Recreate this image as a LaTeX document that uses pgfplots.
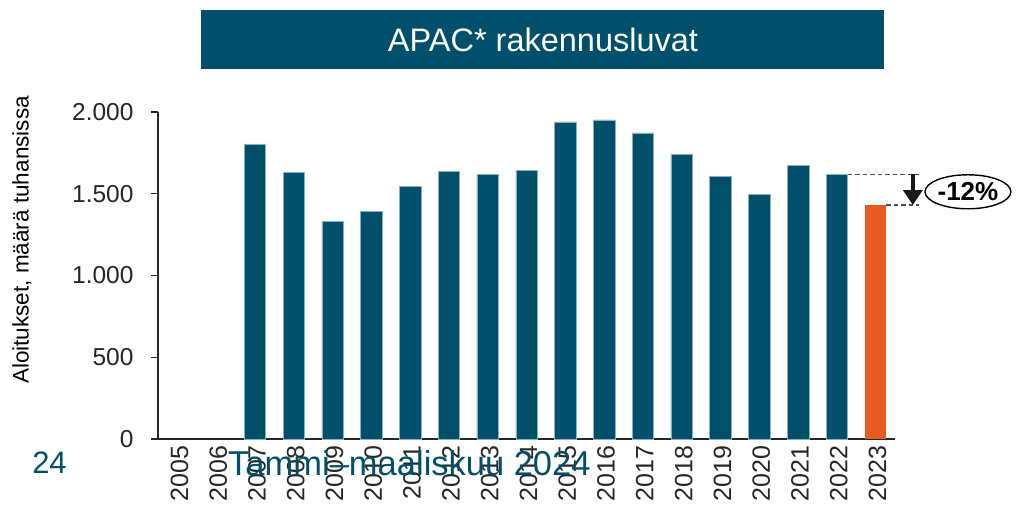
\documentclass[border=0pt]{standalone}
\usepackage{pgfplots}
\pgfplotsset{compat=1.18}
\usepackage{fontspec}
\setmainfont{Liberation Sans}
\usetikzlibrary{arrows.meta,shapes.geometric}
\definecolor{teal1}{RGB}{0,80,107}
\definecolor{orange1}{RGB}{233,90,32}
\begin{document}
\begin{tikzpicture}[x=1bp,y=1bp]
\useasboundingbox (0,0) rectangle (1018,505);
\fill[teal1] (201,436) rectangle (884,495);
\node[text=white, font=\fontsize{32.5bp}{38bp}\selectfont] at (543,465.5) {APAC* rakennusluvat};
\node[rotate=90, font=\fontsize{22.5bp}{27bp}\selectfont] at (22,265) {Aloitukset, määrä tuhansissa};
\begin{axis}[
  at={(158bp,66bp)}, anchor=south west,
  scale only axis, width=737bp, height=327bp,
  xmin=-0.5, xmax=18.5, ymin=0, ymax=2000,
  axis x line=bottom, axis y line=left,
  axis line style={-, line width=1.6bp, black!85},
  xtick={0,1,...,18},
  xticklabels={2005,2006,2007,2008,2009,2010,2011,2012,2013,2014,2015,2016,2017,2018,2019,2020,2021,2022,2023},
  x tick style={draw=none},
  ytick={0,500,1000,1500,2000},
  yticklabels={0,500,1.000,1.500,2.000},
  ytick align=outside, major tick length=7bp,
  y tick style={line width=1.4bp, black!85},
  xticklabel style={rotate=90, anchor=east, yshift=-2bp, font=\fontsize{25bp}{29bp}\selectfont, text=black!85},
  yticklabel style={xshift=-14bp, font=\fontsize{24.5bp}{29bp}\selectfont, text=black!85},
  clip=false,
]
\addplot[ybar, bar shift=0pt, bar width=21.5bp, fill=teal1, draw=teal1!45!white, line width=0.5bp]
  coordinates {(2,1804) (3,1631) (4,1331) (5,1394) (6,1547) (7,1639) (8,1617) (9,1641) (10,1939) (11,1951) (12,1873) (13,1741) (14,1607) (15,1497) (16,1674) (17,1619)};
\addplot[ybar, bar shift=0pt, bar width=21.5bp, fill=orange1, draw=none]
  coordinates {(18,1431)};
\draw[dash pattern=on 4.5bp off 3bp, line width=1.5bp, black!70] (axis cs:17.28,1619) -- (axis cs:19.12,1619);
\draw[dash pattern=on 4.5bp off 3bp, line width=1.5bp, black!70] (axis cs:18.28,1431) -- (axis cs:19.12,1431);
\draw[line width=4bp, black!90, -{Triangle[length=15bp,width=19bp]}] (axis cs:18.96,1619) -- (axis cs:18.96,1431);
\node[ellipse, draw, line width=1.4bp, minimum width=76bp, minimum height=34bp, inner sep=0pt, font=\bfseries\fontsize{26bp}{30bp}\selectfont] at (axis cs:20.38,1512) {-12\%};
\end{axis}
\node[text=teal1, font=\fontsize{31bp}{36bp}\selectfont] at (49.5,42) {24};
\node[text=teal1, anchor=west, inner sep=0pt, font=\fontsize{34.5bp}{40bp}\selectfont] at (228,42) {Tammi–maaliskuu 2024};
\end{tikzpicture}
\end{document}
